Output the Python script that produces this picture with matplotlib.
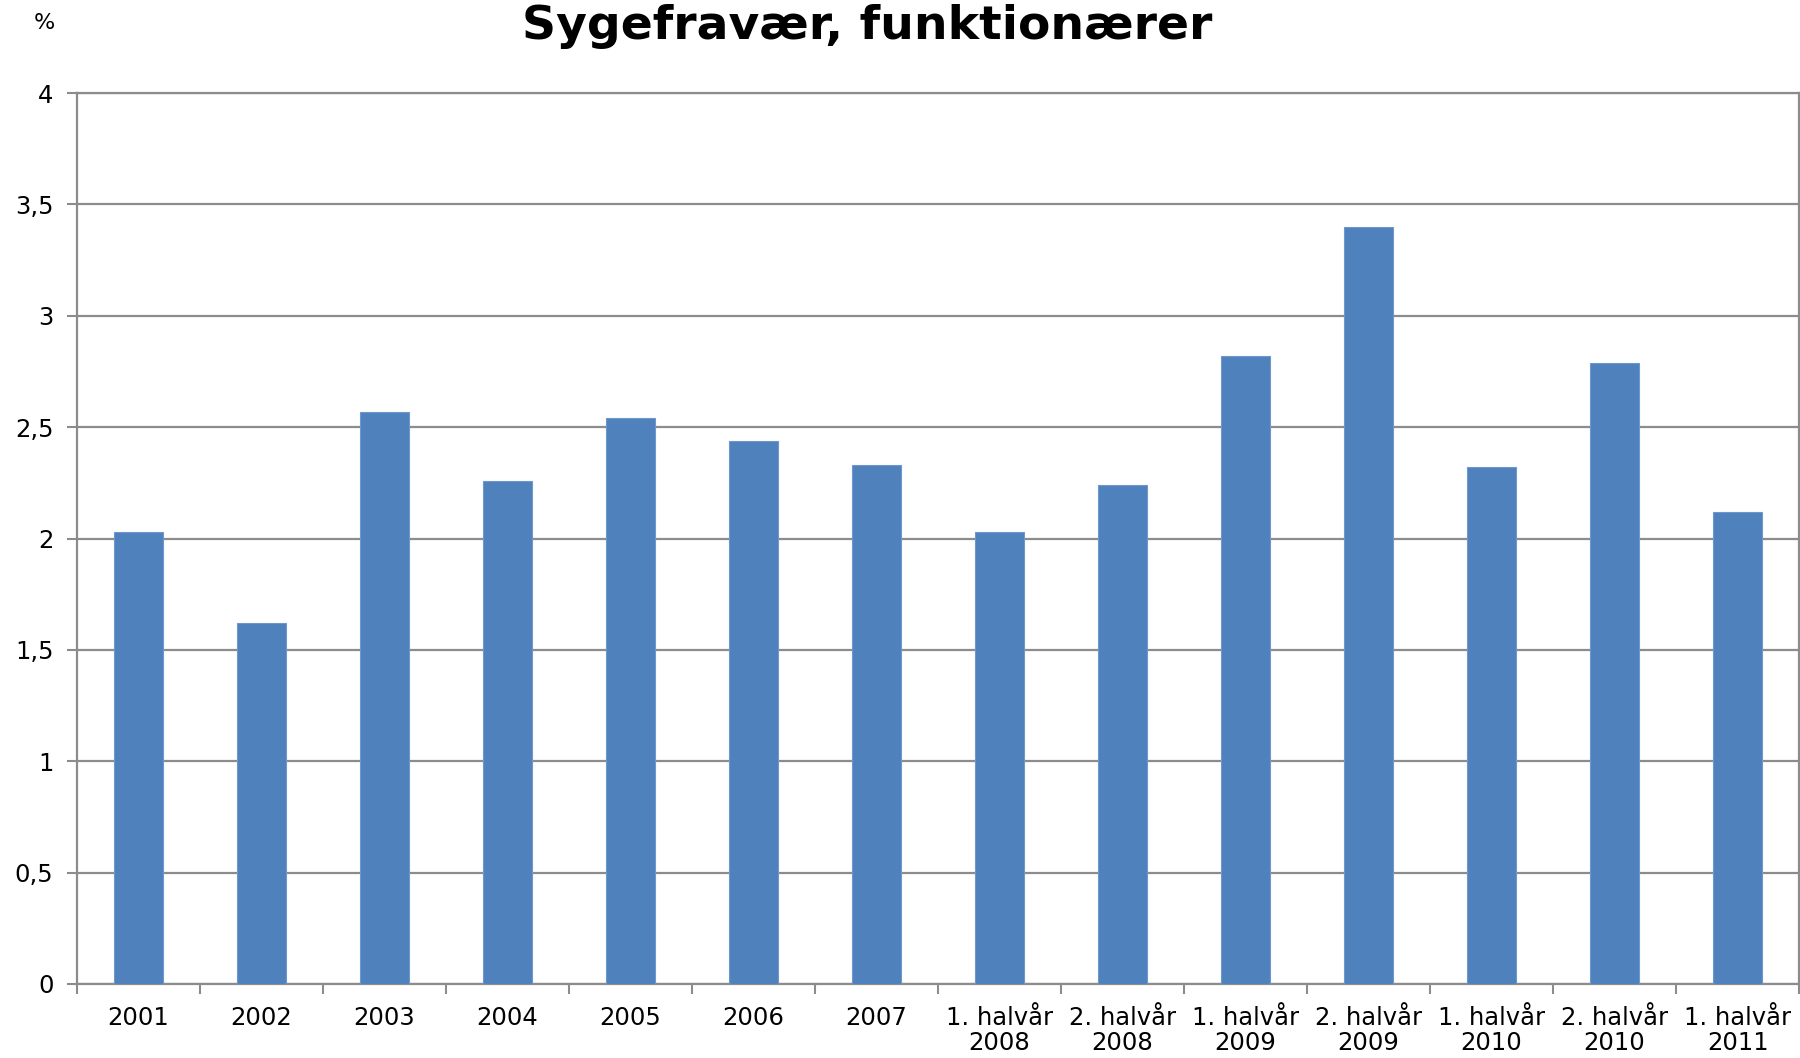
import matplotlib
matplotlib.use("Agg")
import matplotlib.pyplot as plt
import numpy as np

# Data
kategorier = [
    "2001", "2002", "2003", "2004", "2005", "2006", "2007",
    "1. halvår\n2008", "2. halvår\n2008", "1. halvår\n2009", "2. halvår\n2009",
    "1. halvår\n2010", "2. halvår\n2010", "1. halvår\n2011",
]
fravaer = [2.03, 1.62, 2.57, 2.26, 2.54, 2.44, 2.33,
           2.03, 2.24, 2.82, 3.40, 2.32, 2.79, 2.12]
y_ticks = [0, 0.5, 1, 1.5, 2, 2.5, 3, 3.5, 4]
y_labels = ["0", "0,5", "1", "1,5", "2", "2,5", "3", "3,5", "4"]

plt.rcParams['font.family'] = ['DejaVu Sans']

fig = plt.figure(figsize=(18, 10.58), dpi=100)
ax = fig.add_axes([0.0428, 0.070, 0.9567, 0.842])

x = np.arange(len(kategorier))
ax.bar(x, fravaer, width=0.4, color='#4F81BD', edgecolor='#6F97CC',
       linewidth=0.8, zorder=3)

ax.set_xlim(-0.5, len(kategorier) - 0.5)
ax.set_ylim(0, 4)

# Gridlines
ax.set_yticks(y_ticks)
ax.set_yticklabels(y_labels, fontsize=17.5)
ax.yaxis.grid(True, color='#8C8C8C', linewidth=1.6, zorder=0)
ax.set_axisbelow(True)

# x ticks: labels at centers, marks at boundaries
ax.set_xticks(x)
ax.set_xticklabels(kategorier, fontsize=17.5, linespacing=1.05)
ax.tick_params(axis='x', which='major', length=0, pad=16)
ax.set_xticks(np.arange(-0.5, len(kategorier), 1), minor=True)
ax.tick_params(axis='x', which='minor', length=7, width=1.5, color='#8C8C8C',
               direction='out')
ax.tick_params(axis='y', length=7, width=1.5, color='#8C8C8C', pad=10)

for side in ['left', 'bottom', 'right', 'top']:
    ax.spines[side].set_color('#8C8C8C')
    ax.spines[side].set_linewidth(1.6)

fig.text(0.482, 0.975, "Sygefravær, funktionærer", fontsize=34,
         fontweight='bold', ha='center', va='center')
fig.text(0.0245, 0.978, "%", fontsize=16, ha='center', va='center')

fig.savefig("out.png", dpi=100)
